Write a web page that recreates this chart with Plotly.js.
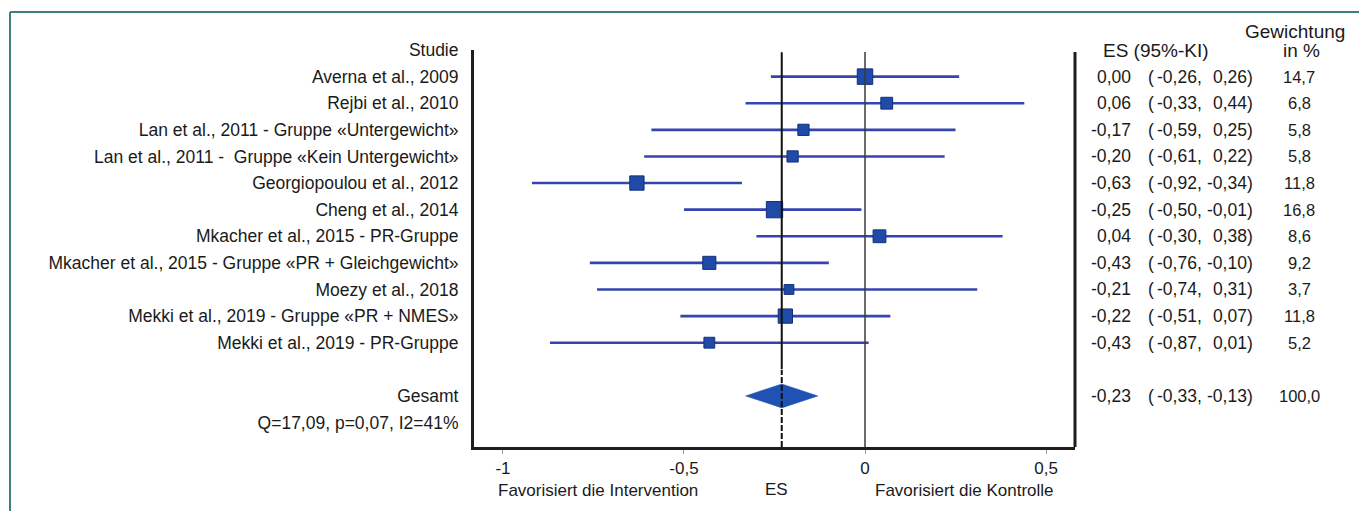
<!DOCTYPE html>
<html>
<head>
<meta charset="utf-8">
<script src="https://cdn.plot.ly/plotly-3.0.1.min.js"></script>
<style>
  html, body { margin: 0; padding: 0; background: #ffffff; }
  #chart { width: 1359px; height: 511px; }
</style>
</head>
<body>
<div id="chart"></div>
<script>
// ---- data ----
const studies = [
  "Averna et al., 2009",
  "Rejbi et al., 2010",
  "Lan et al., 2011 - Gruppe «Untergewicht»",
  "Lan et al., 2011 -  Gruppe «Kein Untergewicht»",
  "Georgiopoulou et al., 2012",
  "Cheng et al., 2014",
  "Mkacher et al., 2015 - PR-Gruppe",
  "Mkacher et al., 2015 - Gruppe «PR + Gleichgewicht»",
  "Moezy et al., 2018",
  "Mekki et al., 2019 - Gruppe «PR + NMES»",
  "Mekki et al., 2019 - PR-Gruppe"
];
const es     = [0.00, 0.06, -0.17, -0.20, -0.63, -0.25, 0.04, -0.43, -0.21, -0.22, -0.43];
const ciLow  = [-0.26, -0.33, -0.59, -0.61, -0.92, -0.50, -0.30, -0.76, -0.74, -0.51, -0.87];
const ciHigh = [0.26, 0.44, 0.25, 0.22, -0.34, -0.01, 0.38, -0.10, 0.31, 0.07, 0.01];
const weight = [14.7, 6.8, 5.8, 5.8, 11.8, 16.8, 8.6, 9.2, 3.7, 11.8, 5.2];

const pooledLabel = "Gesamt";
const pooledES = -0.23;
const pooledLow = -0.33;
const pooledHigh = -0.13;
const pooledWeight = 100.0;
const heterogeneity = "Q=17,09, p=0,07, I2=41%";
const headerStudy = "Studie";

const xTickVals = [-1, -0.5, 0, 0.5];
const xTickText = ["-1", "-0,5", "0", "0,5"];

// ---- helpers ----
const fmt2 = v => (Math.abs(v) < 0.005 ? "0,00" : v.toFixed(2).replace(".", ","));
const fmt1 = v => v.toFixed(1).replace(".", ",");

const rowIdx = studies.map((_, i) => i);
const pooledRow = studies.length + 1;   // one blank row, then Gesamt
const hetRow = pooledRow + 1;
const headerRow = -1;

const FONT = "Liberation Sans, Arial, Helvetica, sans-serif";
const TXT = "#1a1a1a";

// pixel -> paper helpers (plot area 474..1075 x 50..447)
const PL = 474, PW = 601;
const px = p => (p - PL) / PW;
const PT = 50, PH = 397;
const py = p => (PT + PH - p) / PH;

// ---- traces ----
const studyTrace = {
  type: "scatter",
  mode: "markers",
  x: es,
  y: rowIdx,
  error_x: {
    type: "data",
    symmetric: false,
    array: es.map((v, i) => ciHigh[i] - v),
    arrayminus: es.map((v, i) => v - ciLow[i]),
    color: "#3544b0",
    thickness: 2.6,
    width: 0
  },
  marker: {
    symbol: "square",
    size: weight.map(w => 4 + 3 * Math.sqrt(w)),
    color: "#1f4aa8",
    opacity: 1,
    line: { color: "#142f7c", width: 1 }
  },
  hoverinfo: "skip",
  showlegend: false
};

const dh = 0.45;
const diamond = {
  type: "scatter",
  mode: "lines",
  x: [pooledLow, pooledES, pooledHigh, pooledES, pooledLow],
  y: [pooledRow, pooledRow - dh, pooledRow, pooledRow + dh, pooledRow],
  fill: "toself",
  fillcolor: "#1f52b3",
  line: { color: "#1f52b3", width: 0.5 },
  hoverinfo: "skip",
  showlegend: false
};

// ---- annotations (right-hand columns) ----
const ann = [];
const addRow = (row, e, lo, hi, w) => {
  ann.push({ xref: "paper", yref: "y", x: px(1133), y: row, xanchor: "right", yanchor: "middle",
             text: fmt2(e), showarrow: false, font: { family: FONT, size: 17.5, color: TXT } });
  ann.push({ xref: "paper", yref: "y", x: px(1146), y: row, xanchor: "left", yanchor: "middle",
             text: "(", showarrow: false, font: { family: FONT, size: 17.5, color: TXT } });
  ann.push({ xref: "paper", yref: "y", x: px(1204), y: row, xanchor: "right", yanchor: "middle",
             text: fmt2(lo) + ",", showarrow: false, font: { family: FONT, size: 17.5, color: TXT } });
  ann.push({ xref: "paper", yref: "y", x: px(1255), y: row, xanchor: "right", yanchor: "middle",
             text: fmt2(hi) + ")", showarrow: false, font: { family: FONT, size: 17.5, color: TXT } });
  ann.push({ xref: "paper", yref: "y", x: px(1299), y: row, xanchor: "center", yanchor: "middle",
             text: fmt1(w), showarrow: false, font: { family: FONT, size: 16.5, color: TXT } });
};
studies.forEach((s, i) => addRow(i, es[i], ciLow[i], ciHigh[i], weight[i]));
addRow(pooledRow, pooledES, pooledLow, pooledHigh, pooledWeight);

// headers
ann.push({ xref: "paper", yref: "y", x: px(1156), y: headerRow, xanchor: "center", yanchor: "middle",
           text: "ES (95%-KI)", showarrow: false, font: { family: FONT, size: 19, color: TXT } });
ann.push({ xref: "paper", yref: "paper", x: px(1295), y: py(31), xanchor: "center", yanchor: "middle",
           text: "Gewichtung", showarrow: false, font: { family: FONT, size: 19, color: TXT } });
ann.push({ xref: "paper", yref: "paper", x: px(1301), y: py(51), xanchor: "center", yanchor: "middle",
           text: "in %", showarrow: false, font: { family: FONT, size: 19, color: TXT } });

// bottom axis captions
ann.push({ xref: "paper", yref: "paper", x: px(598), y: py(491), xanchor: "center", yanchor: "middle",
           text: "Favorisiert die Intervention", showarrow: false, font: { family: FONT, size: 17, color: TXT } });
ann.push({ xref: "paper", yref: "paper", x: px(776), y: py(489), xanchor: "center", yanchor: "middle",
           text: "ES", showarrow: false, font: { family: FONT, size: 17, color: TXT } });
ann.push({ xref: "paper", yref: "paper", x: px(964), y: py(491), xanchor: "center", yanchor: "middle",
           text: "Favorisiert die Kontrolle", showarrow: false, font: { family: FONT, size: 17, color: TXT } });

// ---- shapes ----
const shapes = [
  // x = 0 reference line
  { type: "line", xref: "x", yref: "paper", x0: 0, x1: 0, y0: 0, y1: py(52),
    line: { color: "#3a3a3a", width: 1.5 } },
  // pooled ES line: solid through studies, dashed below
  { type: "line", xref: "x", yref: "y", x0: pooledES, x1: pooledES, y0: headerRow + 0.08, y1: studies.length,
    line: { color: "#111111", width: 2 } },
  { type: "line", xref: "x", yref: "paper", x0: pooledES, x1: pooledES, y0: 0, y1: py(370),
    line: { color: "#111111", width: 2, dash: "6px,2px" } },
  // right border of plot
  { type: "line", xref: "paper", yref: "paper", x0: 1, x1: 1, y0: 0, y1: py(52),
    line: { color: "#1e1e1e", width: 3 } },
  // outer teal frame
  { type: "line", xref: "paper", yref: "paper", x0: px(10), x1: px(1362), y0: py(12), y1: py(12),
    line: { color: "#3f7f80", width: 2 } },
  { type: "line", xref: "paper", yref: "paper", x0: px(10), x1: px(10), y0: py(12), y1: py(515),
    line: { color: "#3f7f80", width: 2 } }
];

const layout = {
  width: 1359,
  height: 511,
  margin: { l: PL, r: 1359 - PL - PW, t: PT, b: 511 - PT - PH, pad: 0 },
  paper_bgcolor: "#ffffff",
  plot_bgcolor: "#ffffff",
  font: { family: FONT, color: TXT },
  showlegend: false,
  xaxis: {
    range: [-1.08, 0.58],
    tickvals: xTickVals,
    ticktext: xTickText,
    ticks: "outside",
    ticklen: 4,
    tickwidth: 1,
    tickcolor: "#9a9a9a",
    showline: true,
    linecolor: "#1e1e1e",
    linewidth: 3,
    showgrid: false,
    zeroline: false,
    tickfont: { family: FONT, size: 17, color: TXT },
    fixedrange: true
  },
  yaxis: {
    range: [13.92, -1],
    tickvals: [headerRow].concat(rowIdx, [pooledRow, hetRow]),
    ticktext: [headerStudy].concat(studies, [pooledLabel, heterogeneity]),
    ticks: "",
    ticklabelstandoff: 9,
    showline: true,
    linecolor: "#1e1e1e",
    linewidth: 3,
    showgrid: false,
    zeroline: false,
    tickfont: { family: FONT, size: 17.5, color: TXT },
    fixedrange: true
  },
  shapes: shapes,
  annotations: ann
};

Plotly.newPlot("chart", [diamond, studyTrace], layout, { displayModeBar: false, staticPlot: true });
</script>
</body>
</html>
